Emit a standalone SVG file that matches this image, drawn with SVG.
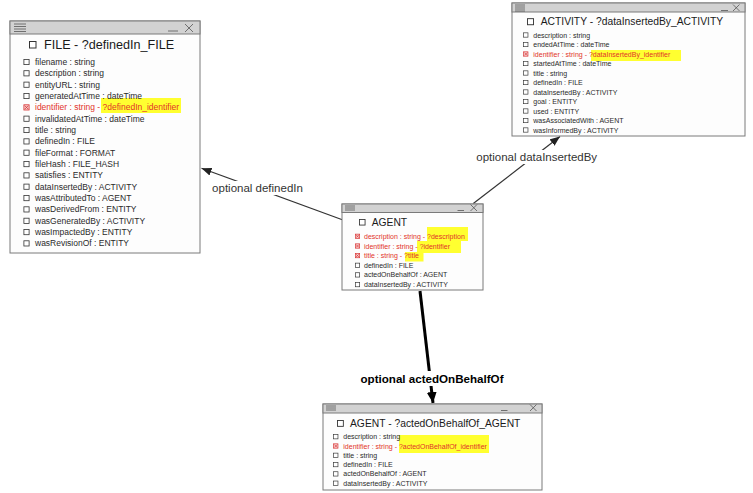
<svg xmlns="http://www.w3.org/2000/svg" xmlns:xlink="http://www.w3.org/1999/xlink" width="753" height="493" viewBox="0 0 753 493">
<style>
text{font-family:"Liberation Sans",Arial,sans-serif;}
.box{fill:#fdfdfd;stroke:#7a7a7a;stroke-width:1;}
.bar{fill:#d2d2d2;stroke:#7a7a7a;stroke-width:1;}
.ico{stroke:#555;stroke-width:0.8;fill:none;}
.ttl{fill:#1a1a1a;}
.t1{font-size:12.6px;}
.t2{font-size:10.3px;}
.r1{font-size:8.5px;fill:#2a2a2a;}
.r2{font-size:7px;fill:#2a2a2a;}
.red{fill:#e2332a;}
.hl{fill:#ffff30;}
.edge{stroke:#333;stroke-width:1.2;fill:none;}
.edgeB{stroke:#000;stroke-width:3;fill:none;}
.lbl{font-size:11.5px;fill:#333;text-anchor:middle;}
.lblB{font-size:11.6px;font-weight:bold;fill:#000;text-anchor:middle;}
.bg{fill:#fff;}
</style>
<defs>
<symbol id="cb" viewBox="0 0 6 6" overflow="visible"><rect x="0.4" y="0.4" width="5.2" height="5.2" fill="#fff" stroke="#333" stroke-width="0.8"/></symbol>
<symbol id="cbx" viewBox="0 0 6 6" overflow="visible"><rect x="0.4" y="0.4" width="5.2" height="5.2" fill="#f6cfcf" stroke="#d83030" stroke-width="0.8"/><path d="M1.3 1.3L4.7 4.7M4.7 1.3L1.3 4.7" stroke="#d83030" stroke-width="0.8"/></symbol>
<marker id="arr" markerUnits="userSpaceOnUse" markerWidth="10" markerHeight="8" refX="10" refY="4" orient="auto"><path d="M0 0L10 4L0 8z" fill="#222"/></marker>
<marker id="arrB" markerUnits="userSpaceOnUse" markerWidth="11" markerHeight="10" refX="11" refY="5" orient="auto"><path d="M0 0L11 5L0 10z" fill="#000"/></marker>
</defs>
<rect width="753" height="493" fill="#fff"/>

<g id="connectors">
<line class="edge" x1="343" y1="220" x2="201.5" y2="168.3" marker-end="url(#arr)"/>
<rect class="bg" x="209" y="181" width="97" height="14"/>
<text class="lbl" x="257.5" y="191.5">optional definedIn</text>
<line class="edge" x1="473.3" y1="203.5" x2="560" y2="136.5" marker-end="url(#arr)"/>
<rect class="bg" x="474" y="150" width="125" height="14"/>
<text class="lbl" x="536.7" y="160.7">optional dataInsertedBy</text>
<line class="edgeB" x1="420" y1="291" x2="433" y2="403" marker-end="url(#arrB)"/>
<rect class="bg" x="359" y="371" width="147" height="15"/>
<text class="lblB" x="432" y="383.2">optional actedOnBehalfOf</text>
</g>

<g id="node-file">
<rect class="box" x="10" y="21" width="190" height="232"/>
<rect class="bar" x="10" y="21" width="190" height="13"/>
<path class="ico" d="M14 24H26M14 26.5H26M14 29H26M14 31.5H26"/>
<path class="ico" d="M168 31H178M185 24L193 32M193 24L185 32" stroke-width="1"/>
<use href="#cb" x="29" y="41" width="7.5" height="7.5"/>
<text class="ttl t1" x="44" y="49.2">FILE - ?definedIn_FILE</text>
<rect class="hl" x="101" y="98" width="80" height="15"/>
<use href="#cb" x="23.5" y="59" width="6" height="6"/><text class="r1" x="35" y="65">filename : string</text>
<use href="#cb" x="23.5" y="70.3" width="6" height="6"/><text class="r1" x="35" y="76.3">description : string</text>
<use href="#cb" x="23.5" y="81.7" width="6" height="6"/><text class="r1" x="35" y="87.7">entityURL : string</text>
<use href="#cb" x="23.5" y="93" width="6" height="6"/><text class="r1" x="35" y="99">generatedAtTime : dateTime</text>
<use href="#cbx" x="23.5" y="104.4" width="6" height="6"/><text class="r1 red" x="35" y="110.4">identifier : string - ?definedIn_identifier</text>
<use href="#cb" x="23.5" y="115.7" width="6" height="6"/><text class="r1" x="35" y="121.7">invalidatedAtTime : dateTime</text>
<use href="#cb" x="23.5" y="127" width="6" height="6"/><text class="r1" x="35" y="133">title : string</text>
<use href="#cb" x="23.5" y="138.4" width="6" height="6"/><text class="r1" x="35" y="144.4">definedIn : FILE</text>
<use href="#cb" x="23.5" y="149.7" width="6" height="6"/><text class="r1" x="35" y="155.7">fileFormat : FORMAT</text>
<use href="#cb" x="23.5" y="161.1" width="6" height="6"/><text class="r1" x="35" y="167.1">fileHash : FILE_HASH</text>
<use href="#cb" x="23.5" y="172.4" width="6" height="6"/><text class="r1" x="35" y="178.4">satisfies : ENTITY</text>
<use href="#cb" x="23.5" y="183.7" width="6" height="6"/><text class="r1" x="35" y="189.7">dataInsertedBy : ACTIVITY</text>
<use href="#cb" x="23.5" y="195.1" width="6" height="6"/><text class="r1" x="35" y="201.1">wasAttributedTo : AGENT</text>
<use href="#cb" x="23.5" y="206.4" width="6" height="6"/><text class="r1" x="35" y="212.4">wasDerivedFrom : ENTITY</text>
<use href="#cb" x="23.5" y="217.8" width="6" height="6"/><text class="r1" x="35" y="223.8">wasGeneratedBy : ACTIVITY</text>
<use href="#cb" x="23.5" y="229.1" width="6" height="6"/><text class="r1" x="35" y="235.1">wasImpactedBy : ENTITY</text>
<use href="#cb" x="23.5" y="240.4" width="6" height="6"/><text class="r1" x="35" y="246.4">wasRevisionOf : ENTITY</text>
</g>

<g id="node-activity">
<rect class="box" x="512" y="3" width="233" height="133"/>
<rect class="bar" x="512" y="3" width="233" height="9"/>
<path class="ico" d="M515 5H525M515 7H525M515 9H525M515 11H525"/>
<path class="ico" d="M721 10.5H728M733 4.5L739.5 11M739.5 4.5L733 11"/>
<use href="#cb" x="527" y="18.2" width="7" height="7"/>
<text class="ttl t2" x="540.7" y="25.4">ACTIVITY - ?dataInsertedBy_ACTIVITY</text>
<rect class="hl" x="591" y="50" width="90" height="11"/>
<use href="#cb" x="523.3" y="32.5" width="5" height="5"/><text class="r2" x="533.3" y="37.5">description : string</text>
<use href="#cb" x="523.3" y="42" width="5" height="5"/><text class="r2" x="533.3" y="47">endedAtTime : dateTime</text>
<use href="#cbx" x="523.3" y="51.5" width="5" height="5"/><text class="r2 red" x="533.3" y="56.5">identifier : string - ?dataInsertedBy_identifier</text>
<use href="#cb" x="523.3" y="61" width="5" height="5"/><text class="r2" x="533.3" y="66">startedAtTime : dateTime</text>
<use href="#cb" x="523.3" y="70.5" width="5" height="5"/><text class="r2" x="533.3" y="75.5">title : string</text>
<use href="#cb" x="523.3" y="80" width="5" height="5"/><text class="r2" x="533.3" y="85">definedIn : FILE</text>
<use href="#cb" x="523.3" y="89.5" width="5" height="5"/><text class="r2" x="533.3" y="94.5">dataInsertedBy : ACTIVITY</text>
<use href="#cb" x="523.3" y="99" width="5" height="5"/><text class="r2" x="533.3" y="104">goal : ENTITY</text>
<use href="#cb" x="523.3" y="108.5" width="5" height="5"/><text class="r2" x="533.3" y="113.5">used : ENTITY</text>
<use href="#cb" x="523.3" y="118" width="5" height="5"/><text class="r2" x="533.3" y="123">wasAssociatedWith : AGENT</text>
<use href="#cb" x="523.3" y="127.5" width="5" height="5"/><text class="r2" x="533.3" y="132.5">wasInformedBy : ACTIVITY</text>
</g>

<g id="node-agent">
<rect class="box" x="342" y="204" width="141" height="86"/>
<rect class="bar" x="342" y="204" width="141" height="8.5"/>
<path class="ico" d="M345 206H355M345 208H355M345 210H355"/>
<path class="ico" d="M457.5 210.5H464M470.5 204.5L477 211M477 204.5L470.5 211"/>
<use href="#cb" x="359" y="219" width="6.5" height="6.5"/>
<text class="ttl t2" x="371.7" y="226">AGENT</text>
<rect class="hl" x="427" y="227" width="41" height="14"/>
<rect class="hl" x="417" y="241" width="44" height="12"/>
<rect class="hl" x="405" y="252" width="18.5" height="9.5"/>
<use href="#cbx" x="355" y="233.8" width="5" height="5"/><text class="r2 red" x="364" y="238.8">description : string - ?description</text>
<use href="#cbx" x="355" y="243.5" width="5" height="5"/><text class="r2 red" x="364" y="248.5">identifier : string - ?identifier</text>
<use href="#cbx" x="355" y="253.1" width="5" height="5"/><text class="r2 red" x="364" y="258.1">title : string - ?title</text>
<use href="#cb" x="355" y="262.8" width="5" height="5"/><text class="r2" x="364" y="267.8">definedIn : FILE</text>
<use href="#cb" x="355" y="272.4" width="5" height="5"/><text class="r2" x="364" y="277.4">actedOnBehalfOf : AGENT</text>
<use href="#cb" x="355" y="282.1" width="5" height="5"/><text class="r2" x="364" y="287.1">dataInsertedBy : ACTIVITY</text>
</g>

<g id="node-agent-actedOnBehalfOf">
<rect class="box" x="323" y="404" width="219" height="86"/>
<rect class="bar" x="323" y="404" width="219" height="9"/>
<path class="ico" d="M326 406H336M326 408H336M326 410H336"/>
<path class="ico" d="M501 410.5H507.5M530 404.5L536.5 411M536.5 404.5L530 411"/>
<use href="#cb" x="337" y="420" width="6.8" height="6.8"/>
<text class="ttl t2" x="350" y="427">AGENT - ?actedOnBehalfOf_AGENT</text>
<rect class="hl" x="399" y="435" width="90" height="18"/>
<use href="#cb" x="333.3" y="434.2" width="5" height="5"/><text class="r2" x="343.3" y="439.2">description : string</text>
<use href="#cbx" x="333.3" y="443.5" width="5" height="5"/><text class="r2 red" x="343.3" y="448.5">identifier : string - ?actedOnBehalfOf_identifier</text>
<use href="#cb" x="333.3" y="452.8" width="5" height="5"/><text class="r2" x="343.3" y="457.8">title : string</text>
<use href="#cb" x="333.3" y="462.1" width="5" height="5"/><text class="r2" x="343.3" y="467.1">definedIn : FILE</text>
<use href="#cb" x="333.3" y="471.4" width="5" height="5"/><text class="r2" x="343.3" y="476.4">actedOnBehalfOf : AGENT</text>
<use href="#cb" x="333.3" y="480.7" width="5" height="5"/><text class="r2" x="343.3" y="485.7">dataInsertedBy : ACTIVITY</text>
</g>
</svg>
